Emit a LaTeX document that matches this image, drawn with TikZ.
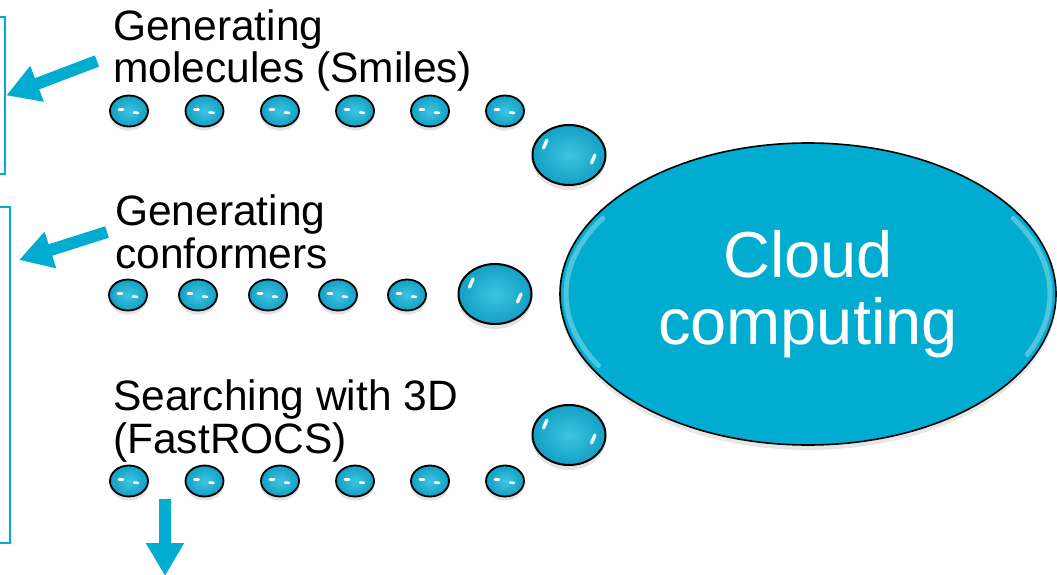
\documentclass[tikz,border=0pt]{standalone}
\usepackage{fontspec}
\setmainfont{Liberation Sans}
\usetikzlibrary{arrows.meta,shapes.geometric,shadows}
\definecolor{cy}{RGB}{0,172,207}
\definecolor{beaddark}{RGB}{18,160,196}
\definecolor{beadlight}{RGB}{62,196,226}
\begin{document}
\begin{tikzpicture}[x=1pt,y=-1pt,
  lbl/.style={anchor=base west,inner sep=0pt,align=left,font=\fontsize{42.5}{42.5}\selectfont},
  bracketbox/.style={draw=cy,line width=2.5pt,inner sep=0pt},
  bigarrow/.style={draw=cy,line width=12pt,-{Triangle[width=36pt,length=33pt]}},
  bead/.style={ellipse,draw=black,line width=1.8pt,inner sep=0pt,
    minimum width=38pt,minimum height=31pt,inner color=beadlight,outer color=beaddark,
    drop shadow={opacity=0.22,shadow xshift=0pt,shadow yshift=-4pt}},
  bigbead/.style={ellipse,draw=black,line width=2pt,inner sep=0pt,
    minimum width=73pt,minimum height=60pt,inner color=beadlight,outer color=beaddark,
    drop shadow={opacity=0.22,shadow xshift=0pt,shadow yshift=-5pt}},
  shine/.style={draw=white,line width=2.6pt,line cap=round},
  bigshine/.style={draw=white,line width=3.4pt,line cap=round,opacity=0.9},
  cloudnode/.style={ellipse,draw=black,line width=1.6pt,fill=cy,inner sep=0pt,
    minimum width=496pt,minimum height=302pt,text=white,align=center,
    font=\fontsize{65}{67}\selectfont,
    drop shadow={opacity=0.2,shadow xshift=0pt,shadow yshift=-5pt}},
  rim/.style={draw=white,opacity=0.3,line width=5pt,line cap=round}
]
\useasboundingbox (0,0) rectangle (1057,575);

% brackets
\node[bracketbox,minimum width=25pt,minimum height=157pt] (b1) at (-7.5,95.5) {};
\node[bracketbox,minimum width=30pt,minimum height=336pt] (b2) at (-5,375) {};

% cloud
\node[cloudnode] (cloud) at (808,294) {Cloud\\computing};
\draw[rim] (cloud.center) ++(150:242 and 143) arc[start angle=150,end angle=212,x radius=242,y radius=143];
\draw[rim] (cloud.center) ++(-32:242 and 143) arc[start angle=-32,end angle=25,x radius=242,y radius=143];

% labels
\node[lbl] (l1) at (113,83) {Generating\\molecules (Smiles)};
\node[lbl] (l2) at (115,268) {Generating\\conformers};
\node[lbl] (l3) at (113,453) {Searching with 3D\\(FastROCS)};

% row 1 beads
\foreach \x [count=\i] in {129,204.5,280,355,430,505}
  \node[bead] (r1b\i) at (\x,111) {};
\node[bigbead] (r1big) at (569,155) {};

% row 2 beads
\foreach \x [count=\i] in {128,198,268,338,407}
  \node[bead] (r2b\i) at (\x,295) {};
\node[bigbead] (r2big) at (495,294) {};

% row 3 beads
\foreach \x [count=\i] in {129,204.5,280,355,430,505}
  \node[bead] (r3b\i) at (\x,481) {};
\node[bigbead] (r3big) at (569,435) {};

% highlights
\foreach \n in {r1b1,r1b2,r1b3,r1b4,r1b5,r1b6,r2b1,r2b2,r2b3,r2b4,r2b5,r3b1,r3b2,r3b3,r3b4,r3b5,r3b6}{
  \draw[shine] ([shift={(-10,-1.5)}]\n.center) -- ++(4,0);
  \draw[shine] ([shift={(5,1.5)}]\n.center) -- ++(4,0.4);
}
\foreach \n in {r1big,r2big,r3big}{
  \draw[bigshine] ([shift={(-22,-15)}]\n.center) -- ++(-3.5,8);
  \draw[bigshine] ([shift={(26,0)}]\n.center) -- ++(-3.5,8);
}

% arrows
\coordinate (t1) at (97,61);
\coordinate (t2) at (107,232);
\coordinate (h2) at (19,260);
\coordinate (t3) at (165,499);
\coordinate (h3) at (165,576);
\draw[bigarrow] (t1) -- (b1.east);
\draw[bigarrow] (t2) -- (h2);
\draw[bigarrow] (t3) -- (h3);
\end{tikzpicture}
\end{document}
